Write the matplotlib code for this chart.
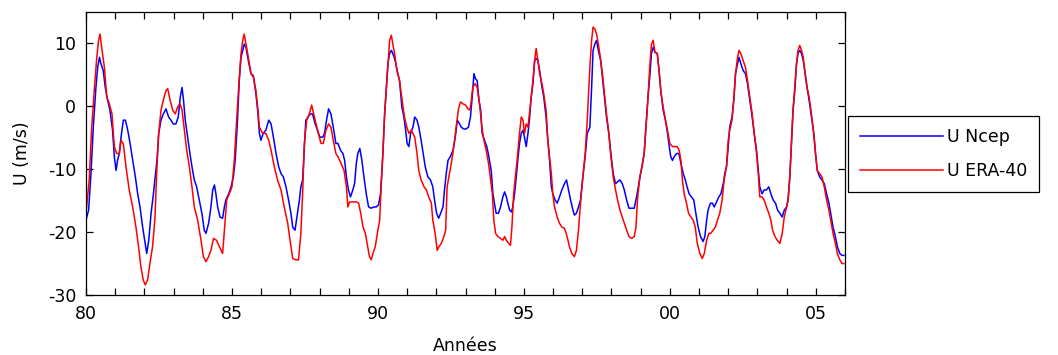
import numpy as np
import matplotlib
matplotlib.use('Agg')
import matplotlib.pyplot as plt
from matplotlib.ticker import MultipleLocator, FixedLocator

# Temps (annees decimales, 80 = 1980) et vent zonal U (m/s)
ncep_annee = [
    80.00, 80.09, 80.17, 80.25, 80.34, 80.40, 80.46, 80.51, 80.59, 80.66, 80.74, 80.82, 80.91, 80.97,
    81.03, 81.08, 81.14, 81.20, 81.28, 81.35, 81.43, 81.51, 81.60, 81.69, 81.77, 81.85, 81.94, 82.01,
    82.08, 82.15, 82.23, 82.31, 82.37, 82.43, 82.49, 82.57, 82.65, 82.74, 82.83, 82.91, 82.99, 83.08,
    83.16, 83.23, 83.29, 83.34, 83.40, 83.48, 83.56, 83.63, 83.71, 83.79, 83.88, 83.97, 84.05, 84.11,
    84.20, 84.28, 84.34, 84.40, 84.45, 84.51, 84.59, 84.68, 84.74, 84.79, 84.89, 84.97, 85.05, 85.11,
    85.19, 85.25, 85.31, 85.37, 85.42, 85.48, 85.56, 85.65, 85.73, 85.82, 85.88, 85.94, 85.99, 86.07,
    86.16, 86.26, 86.34, 86.42, 86.51, 86.60, 86.68, 86.76, 86.85, 86.94, 87.02, 87.08, 87.16, 87.21,
    87.31, 87.36, 87.42, 87.48, 87.53, 87.61, 87.68, 87.76, 87.85, 87.93, 88.01, 88.11, 88.17, 88.24,
    88.31, 88.39, 88.47, 88.56,
    88.63, 88.72, 88.80, 88.86, 88.92, 88.99, 89.06, 89.14, 89.20, 89.26, 89.31, 89.38, 89.45, 89.52,
    89.60, 89.68, 89.77, 89.86, 89.94, 90.02, 90.09, 90.17, 90.23, 90.29, 90.34, 90.40, 90.46, 90.51,
    90.59, 90.66, 90.74, 90.82, 90.89, 90.95, 91.00, 91.06, 91.12, 91.20, 91.26, 91.34, 91.40, 91.48,
    91.55, 91.62, 91.71, 91.80, 91.88, 91.94, 92.01, 92.08, 92.15, 92.23, 92.28, 92.34, 92.40, 92.48,
    92.57, 92.65, 92.72, 92.80, 92.85, 92.94, 93.02, 93.10, 93.17, 93.23, 93.29, 93.34, 93.40, 93.46,
    93.52, 93.57, 93.65, 93.73, 93.80, 93.88, 93.94, 93.99, 94.05, 94.13, 94.20, 94.28, 94.34, 94.40,
    94.45, 94.51, 94.57, 94.62, 94.68, 94.74, 94.79, 94.85, 94.91, 94.97, 95.02, 95.08, 95.14, 95.19,
    95.25, 95.31, 95.37, 95.42, 95.48, 95.54, 95.62, 95.68, 95.76, 95.82, 95.88, 95.94, 95.99, 96.07,
    96.14, 96.22, 96.30, 96.39, 96.46, 96.53, 96.60, 96.68, 96.73, 96.80, 96.87, 96.94, 97.02, 97.10,
    97.17,
    97.26, 97.32, 97.37, 97.43, 97.49, 97.55, 97.63, 97.69, 97.77, 97.83, 97.91, 97.98, 98.06, 98.14,
    98.21, 98.29, 98.37, 98.44, 98.52, 98.60, 98.69, 98.78, 98.86, 98.92, 99.00, 99.06, 99.12, 99.20,
    99.26, 99.31, 99.37, 99.43, 99.49, 99.57, 99.63, 99.69, 99.77, 99.85, 99.92, 99.98, 100.03, 100.09,
    100.15, 100.23, 100.31, 100.38, 100.46, 100.53, 100.59, 100.66, 100.74, 100.82, 100.89, 100.97,
    101.05, 101.14, 101.20, 101.26, 101.31, 101.39, 101.46, 101.52, 101.60, 101.68, 101.75, 101.83,
    101.88, 101.94, 102.00, 102.05, 102.13, 102.19, 102.25, 102.32, 102.37, 102.43, 102.51, 102.59,
    102.66, 102.74, 102.82, 102.89, 102.97, 103.03, 103.08, 103.16, 103.23, 103.31, 103.39, 103.46,
    103.54, 103.62, 103.69, 103.77, 103.85, 103.92, 104.00, 104.05, 104.11, 104.17, 104.22, 104.28,
    104.34, 104.39, 104.45, 104.51, 104.57, 104.62, 104.70, 104.77, 104.85, 104.93, 104.99, 105.05,
    105.13, 105.21, 105.29, 105.37, 105.45, 105.51, 105.59, 105.67, 105.74, 105.82, 105.90, 105.96,
]
ncep_u = [
    -18.1, -16.5, -10.7, -3.3, 3.0, 6.2, 7.8, 6.8, 5.7, 3.0, 1.0, -0.6, -3.8, -8.0,
    -10.2, -8.6, -7.5, -4.9, -2.2, -2.2, -3.8, -5.9, -8.6, -11.2, -13.9, -16.0, -19.2, -21.3,
    -23.4, -21.3, -17.0, -13.9, -11.2, -8.6, -4.3, -2.2, -1.2, -0.4, -1.7, -2.2, -2.8, -2.8,
    -1.7, 1.5, 3.0, 1.0, -2.2, -4.9, -7.5, -9.6, -11.7, -12.8, -14.9, -17.0, -19.7, -20.2,
    -18.6, -16.0, -13.3, -12.5, -13.9, -16.0, -17.6, -17.8, -16.0, -14.9, -13.9, -12.8, -11.2, -8.6,
    -2.2, 4.1, 7.8, 8.9, 9.9, 9.4, 7.3, 5.2, 4.9, 2.0, -0.6, -4.3, -5.4, -4.3,
    -3.8, -2.2, -2.8, -4.9, -7.5, -9.6, -10.7, -11.2, -12.8, -14.9, -17.0, -19.2, -19.7, -18.1,
    -14.9, -12.8, -11.7, -6.4, -2.2, -1.7, -1.2, -1.2, -2.8, -3.8, -4.9, -4.9, -4.3, -2.2,
    -0.4, -1.2, -3.3, -5.9,
    -5.9, -7.0, -7.5, -8.6, -11.2, -13.3, -14.4, -13.3, -12.3, -9.1, -7.5, -6.7, -8.6, -11.2,
    -13.9, -16.0, -16.2, -16.0, -16.0, -15.7, -13.9, -7.5, -1.2, 3.0, 6.8, 8.4, 8.9, 8.4,
    7.3, 5.7, 4.1, -0.1, -1.7, -3.8, -5.9, -6.4, -4.3, -3.3, -1.7, -2.2, -3.3, -5.4,
    -7.5, -9.6, -11.2, -11.7, -12.8, -14.9, -17.0, -17.8, -17.0, -16.0, -13.3, -10.7, -8.6, -8.0,
    -7.0, -4.9, -2.2, -2.8, -3.3, -3.6, -3.6, -3.3, -1.7, 1.5, 5.2, 4.4, 4.1, 1.0,
    -0.6, -4.3, -5.4, -6.4, -8.0, -10.2, -13.9, -15.4, -17.0, -17.0, -16.0, -14.4, -13.6, -14.4,
    -15.4, -16.5, -16.8, -16.0, -13.9, -11.2, -8.6, -5.9, -4.3, -3.8, -4.9, -6.4, -4.3, -2.2,
    1.5, 3.6, 7.3, 7.6, 7.3, 5.7, 3.0, 1.5, -1.7, -5.4, -8.6, -12.8, -13.9, -14.9,
    -15.4, -14.4, -13.3, -12.3, -11.7, -13.3, -14.9, -16.5, -17.3, -17.0, -16.0, -14.9, -11.2, -8.0,
    -4.3,
    -3.3, 3.0, 8.9, 9.9, 10.5, 8.9, 7.3, 4.6, 1.0, -1.7, -4.3, -7.5, -10.7, -12.3,
    -12.0, -11.7, -12.3, -13.3, -14.9, -16.2, -16.2, -16.2, -14.4, -12.8, -10.7, -9.1, -7.5, -2.2,
    2.0, 4.6, 8.4, 9.4, 8.6, 8.4, 5.7, 2.5, -0.6, -2.2, -4.3, -6.4, -8.0, -8.6,
    -8.0, -7.5, -7.5, -9.1, -10.7, -11.7, -12.8, -13.9, -14.4, -14.9, -17.0, -19.2,
    -20.7, -21.5, -20.7, -18.1, -16.5, -15.4, -15.4, -16.0, -15.2, -14.4, -13.9, -12.3,
    -10.7, -9.6, -6.4, -3.3, -1.7, 1.0, 5.2, 6.8, 7.8, 6.8, 5.7, 5.2,
    3.6, 1.0, -1.7, -4.3, -7.0, -10.2, -12.8, -13.9, -13.3, -13.3, -12.8, -13.9,
    -14.9, -15.4, -16.5, -17.0, -17.6, -16.5, -16.0, -14.9, -11.2, -5.4, -0.6, 2.5,
    6.8, 8.4, 8.9, 8.4, 7.3, 5.7, 3.0, 1.0, -1.7, -4.3, -7.5, -10.2,
    -11.2, -11.7, -12.3, -13.9, -15.4, -17.0, -19.2, -20.7, -22.3, -23.4, -23.7, -23.7,
]

era_annee = [
    80.00, 80.11, 80.19, 80.29, 80.37, 80.43, 80.48, 80.55, 80.63, 80.71, 80.80, 80.89, 80.97, 81.05,
    81.14, 81.20, 81.28, 81.37, 81.48, 81.60, 81.71, 81.80, 81.88, 81.96, 82.03, 82.11, 82.19, 82.28,
    82.36, 82.42, 82.49, 82.57, 82.65, 82.74, 82.80, 82.88, 82.97, 83.06, 83.14, 83.22, 83.29, 83.37,
    83.45, 83.54, 83.63, 83.71, 83.82, 83.94, 84.02, 84.11, 84.20, 84.28, 84.37, 84.47, 84.57, 84.68,
    84.75, 84.82, 84.91, 85.00, 85.08, 85.16, 85.23, 85.31, 85.37, 85.42, 85.48, 85.56, 85.65, 85.74,
    85.82, 85.88, 85.94, 86.05, 86.16, 86.26, 86.34, 86.45, 86.56, 86.68, 86.79, 86.91, 86.99, 87.08,
    87.19, 87.28, 87.36, 87.42, 87.48, 87.56, 87.65, 87.73, 87.80, 87.88, 87.96, 88.05, 88.13, 88.22,
    88.31, 88.39, 88.47, 88.56,
    88.63, 88.74, 88.84, 88.92, 88.97, 89.03, 89.14, 89.26, 89.34, 89.41, 89.49, 89.57, 89.63, 89.71,
    89.77, 89.83, 89.91, 89.98, 90.06, 90.11, 90.17, 90.23, 90.29, 90.34, 90.40, 90.46, 90.51, 90.57,
    90.65, 90.74, 90.80, 90.86, 90.91, 90.99, 91.06, 91.14, 91.20, 91.26, 91.34, 91.40, 91.48, 91.58,
    91.66, 91.74, 91.83, 91.88, 91.96, 92.03, 92.09, 92.17, 92.26, 92.32, 92.37, 92.45, 92.53, 92.60,
    92.68, 92.76, 92.83, 92.91, 93.00, 93.08, 93.15, 93.20, 93.25, 93.33, 93.40, 93.48, 93.56, 93.63,
    93.71, 93.79, 93.86, 93.92, 93.97, 94.03, 94.11, 94.20, 94.28, 94.34, 94.40, 94.48, 94.54, 94.59,
    94.65, 94.71, 94.79, 94.85, 94.91, 94.97, 95.02, 95.08, 95.14, 95.19, 95.25, 95.31, 95.37, 95.42,
    95.48, 95.54, 95.62, 95.68, 95.76, 95.82, 95.88, 95.94, 95.99, 96.05, 96.14, 96.22, 96.30, 96.39,
    96.48, 96.56, 96.64, 96.73, 96.80, 96.87, 96.94, 97.02, 97.10, 97.17,
    97.26, 97.32, 97.37, 97.43, 97.49, 97.55, 97.60, 97.69, 97.77, 97.83, 97.91, 97.98, 98.06, 98.14,
    98.21, 98.29, 98.37, 98.44, 98.52, 98.60, 98.69, 98.78, 98.84, 98.89, 98.97, 99.05, 99.12, 99.20,
    99.26, 99.31, 99.37, 99.43, 99.49, 99.57, 99.63, 99.69, 99.77, 99.85, 99.92, 100.00, 100.09, 100.17,
    100.25, 100.32, 100.38, 100.43, 100.49, 100.57, 100.64, 100.72, 100.80, 100.87, 100.94, 101.03,
    101.11, 101.18, 101.26, 101.34, 101.40, 101.48, 101.56, 101.63, 101.71, 101.79, 101.86, 101.94,
    102.00, 102.05, 102.13, 102.19, 102.25, 102.32, 102.37, 102.43, 102.51, 102.59, 102.66, 102.74,
    102.82, 102.89, 102.97, 103.03, 103.08, 103.16, 103.23, 103.31, 103.39, 103.46, 103.52, 103.60,
    103.68, 103.77, 103.85, 103.92, 104.00, 104.05, 104.11, 104.17, 104.22, 104.28, 104.34, 104.39,
    104.45, 104.51, 104.57, 104.62, 104.70, 104.77, 104.85, 104.93, 104.99, 105.05, 105.13, 105.21,
    105.29, 105.37, 105.45, 105.51, 105.59, 105.67, 105.74, 105.82, 105.90, 105.96,
]
era_u = [
    -17.0, -11.7, -3.8, 3.0, 7.8, 10.5, 11.5, 8.9, 6.2, 1.5, 0.4, -1.2, -6.4, -7.5,
    -7.5, -5.4, -6.0, -9.6, -13.3, -16.0, -19.2, -22.3, -25.5, -27.6, -28.4, -27.6, -25.0, -22.3,
    -18.0, -10.7, -4.3, -0.6, 1.0, 2.5, 2.8, 1.0, -0.6, -1.2, -0.1, 0.4, -0.6, -3.8,
    -7.0, -9.6, -12.8, -16.0, -18.0, -21.3, -23.9, -24.7, -23.9, -22.9, -21.0, -21.3, -22.3, -23.4,
    -19.2, -14.9, -13.9, -12.8, -8.6, -2.2, 3.0, 8.4, 10.5, 11.5, 9.9, 7.8, 5.2, 4.6,
    2.5, -0.1, -3.3, -4.3, -4.3, -5.4, -7.0, -9.6, -11.7, -13.3, -16.0, -18.6, -21.3, -24.2,
    -24.4, -24.4, -20.2, -13.9, -5.9, -2.2, -1.2, 0.2, -1.2, -2.8, -4.3, -5.9, -5.9, -3.8,
    -2.8, -3.3, -5.4, -7.5,
    -8.0, -9.1, -10.2, -12.8, -16.0, -15.2, -15.2, -15.2, -15.4, -17.0, -19.2, -20.2, -21.8, -23.9,
    -24.4, -23.4, -22.3, -20.2, -18.1, -12.8, -7.5, -1.2, 3.0, 6.2, 10.5, 11.3, 9.9, 8.4,
    5.7, 4.1, 2.0, -0.1, -1.7, -3.3, -4.3, -3.8, -4.3, -4.9, -7.5, -10.2, -11.7, -12.8,
    -13.3, -14.4, -15.4, -18.1, -20.2, -22.9, -22.3, -21.8, -20.7, -19.7, -12.8, -10.7, -8.6, -6.4,
    -3.3, -0.4, 0.7, 0.4, 0.2, -0.4, -0.6, 1.0, 3.0, 3.6, 3.0, 0.4, -3.3, -5.4,
    -7.0, -9.1, -11.7, -13.9, -18.1, -20.2, -20.7, -21.0, -21.3, -20.7, -21.3, -21.8, -22.1, -19.2,
    -13.9, -11.2, -7.5, -4.3, -1.7, -2.2, -4.3, -2.8, -3.3, -1.2, 1.5, 4.1, 7.3, 9.2,
    7.3, 5.2, 3.6, 2.0, -0.6, -5.4, -8.0, -10.7, -13.9, -16.0, -17.6, -18.6, -19.2, -19.4,
    -20.7, -22.3, -23.4, -23.9, -22.9, -19.7, -15.4, -11.2, -7.5, -2.2,
    6.2, 10.5, 12.6, 12.3, 11.5, 9.9, 8.4, 5.2, 1.5, -1.2, -4.3, -8.0, -11.2, -13.3,
    -14.9, -16.5, -17.6, -18.6, -19.7, -20.7, -21.0, -20.7, -19.2, -14.9, -11.2, -9.6, -7.5, -2.2,
    2.0, 6.2, 9.9, 10.5, 8.6, 8.4, 5.7, 2.5, -0.1, -2.2, -3.8, -5.9, -6.4, -6.4,
    -6.4, -7.0, -8.6, -11.7, -13.9, -15.4, -17.0, -17.6, -18.1, -19.2, -21.8, -23.4,
    -24.2, -23.4, -21.3, -20.2, -20.2, -19.7, -19.2, -18.1, -17.0, -14.9, -11.7, -9.6,
    -5.4, -3.8, -2.2, 1.0, 5.2, 7.8, 8.9, 8.4, 7.3, 6.2, 4.1, 1.5,
    -1.2, -4.3, -7.5, -10.7, -14.4, -14.4, -14.9, -16.0, -17.0, -18.1, -19.7, -20.7,
    -21.3, -21.8, -20.2, -17.6, -16.0, -14.9, -11.2, -5.4, -0.6, 3.0, 6.8, 8.9,
    9.7, 8.9, 7.8, 5.7, 3.0, 1.5, -1.2, -4.3, -7.5, -10.2, -10.7, -11.2,
    -12.8, -14.9, -16.5, -18.1, -20.2, -21.8, -23.4, -24.4, -25.0, -25.0,
]

plt.rcParams['font.family'] = ['DejaVu Sans']
plt.rcParams['font.size'] = 12.5
plt.rcParams['axes.unicode_minus'] = False

fig = plt.figure(figsize=(10.58, 3.55), dpi=100)
ax = fig.add_axes([86 / 1058, 1 - 295 / 355, (845 - 86) / 1058, (295 - 12) / 355])

ax.plot(ncep_annee, ncep_u, color=(0, 0, 1), lw=1.1, label='U Ncep')
ax.plot(era_annee, era_u, color=(1, 0, 0), lw=1.1, label='U ERA-40')

ax.set_xlim(80, 106)
ax.set_ylim(-30, 15)
ax.xaxis.set_major_locator(FixedLocator([80, 85, 90, 95, 100, 105]))
ax.set_xticklabels(['80', '85', '90', '95', '00', '05'])
ax.xaxis.set_minor_locator(MultipleLocator(1))
ax.set_yticks([-30, -20, -10, 0, 10])

ax.tick_params(which='both', direction='in', top=True, right=True, length=5, width=0.9, colors='black')
ax.tick_params(axis='x', pad=7)
ax.tick_params(axis='y', pad=7)
for s in ax.spines.values():
    s.set_linewidth(0.9)

ax.set_xlabel('Années', labelpad=10)
ax.set_ylabel('U (m/s)', labelpad=12)

leg = fig.legend(loc='upper left', bbox_to_anchor=(848 / 1058, 1 - 116 / 355),
                 fancybox=False, edgecolor='black', framealpha=1,
                 handlelength=4.8, handletextpad=0.2, labelspacing=0.9, borderpad=0.7,
                 borderaxespad=0)
leg.get_frame().set_linewidth(0.9)

fig.savefig('out.png', dpi=100)
